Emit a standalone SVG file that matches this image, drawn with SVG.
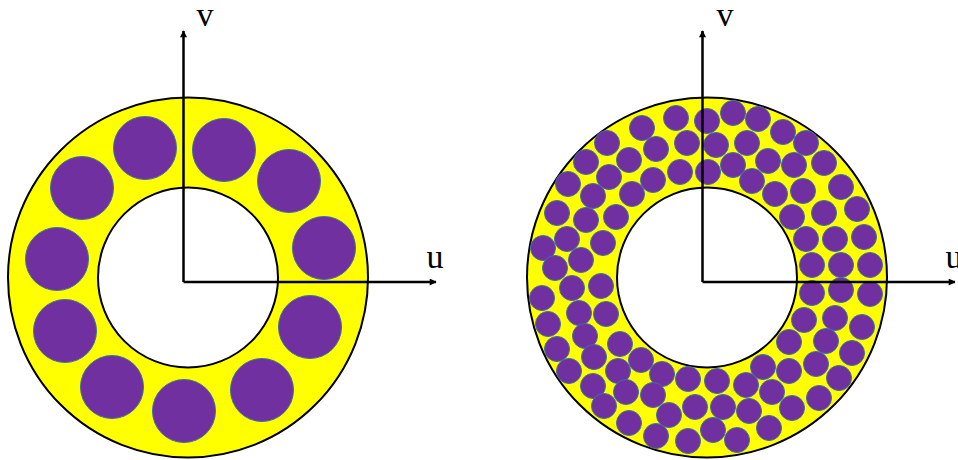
<svg xmlns="http://www.w3.org/2000/svg" width="958" height="460" viewBox="0 0 958 460">
<defs>
<style>
.ring{fill:#FFFF00;stroke:#000;stroke-width:2}
.hole{fill:#fff;stroke:#000;stroke-width:2}
.big{fill:#7030A0;stroke:#41719C;stroke-width:1}
.sm{fill:#7030A0;stroke:#41719C;stroke-width:1}
.axis{stroke:#000;stroke-width:2.5;fill:none}
.lbl{font-family:"Liberation Serif","DejaVu Serif",serif;font-size:34px;fill:#000}
</style>
<marker id="ah" viewBox="0 0 10 10" refX="9" refY="5" markerWidth="3.4" markerHeight="2.8" orient="auto" markerUnits="strokeWidth">
<path d="M0,0 L10,5 L0,10 z" fill="#000"/>
</marker>
</defs>
<rect width="958" height="460" fill="#fff"/>

<g id="left-annulus">
<circle class="ring" cx="188" cy="277.5" r="180"/>
<circle class="hole" cx="188" cy="277.5" r="90"/>
<g id="left-fibres">
<circle class="big" cx="145" cy="148" r="31.5"/>
<circle class="big" cx="224" cy="150" r="31.5"/>
<circle class="big" cx="289" cy="181" r="31.5"/>
<circle class="big" cx="324" cy="248" r="31.5"/>
<circle class="big" cx="310" cy="327" r="31.5"/>
<circle class="big" cx="262" cy="390" r="31.5"/>
<circle class="big" cx="184" cy="411" r="31.5"/>
<circle class="big" cx="112" cy="387" r="31.5"/>
<circle class="big" cx="65" cy="331" r="31.5"/>
<circle class="big" cx="57" cy="259" r="31.5"/>
<circle class="big" cx="82" cy="188" r="31.5"/>
</g>
</g>

<g id="right-annulus">
<circle class="ring" cx="707" cy="277.5" r="180"/>
<circle class="hole" cx="707" cy="277.5" r="90"/>
<g id="right-fibres">
<circle class="sm" cx="676" cy="118" r="12.5"/>
<circle class="sm" cx="642" cy="128" r="12.5"/>
<circle class="sm" cx="607" cy="143" r="12.5"/>
<circle class="sm" cx="586" cy="162" r="12.5"/>
<circle class="sm" cx="568" cy="184" r="12.5"/>
<circle class="sm" cx="557" cy="213" r="12.5"/>
<circle class="sm" cx="543" cy="248" r="12.5"/>
<circle class="sm" cx="555" cy="268" r="12.5"/>
<circle class="sm" cx="687" cy="143" r="12.5"/>
<circle class="sm" cx="656" cy="149" r="12.5"/>
<circle class="sm" cx="629" cy="160" r="12.5"/>
<circle class="sm" cx="609" cy="177" r="12.5"/>
<circle class="sm" cx="593" cy="196" r="12.5"/>
<circle class="sm" cx="586" cy="220" r="12.5"/>
<circle class="sm" cx="567" cy="239" r="12.5"/>
<circle class="sm" cx="581" cy="260" r="12.5"/>
<circle class="sm" cx="680" cy="172" r="12.5"/>
<circle class="sm" cx="653" cy="180" r="12.5"/>
<circle class="sm" cx="632" cy="194" r="12.5"/>
<circle class="sm" cx="616" cy="217" r="12.5"/>
<circle class="sm" cx="603" cy="243" r="12.5"/>

<circle class="sm" cx="707" cy="121" r="12.5"/>
<circle class="sm" cx="733" cy="113" r="12.5"/>
<circle class="sm" cx="758" cy="119" r="12.5"/>
<circle class="sm" cx="783" cy="132" r="12.5"/>
<circle class="sm" cx="806" cy="143" r="12.5"/>
<circle class="sm" cx="824" cy="163" r="12.5"/>
<circle class="sm" cx="841" cy="187" r="12.5"/>
<circle class="sm" cx="857" cy="209" r="12.5"/>
<circle class="sm" cx="864" cy="237" r="12.5"/>
<circle class="sm" cx="870" cy="265" r="12.5"/>
<circle class="sm" cx="716" cy="145" r="12.5"/>
<circle class="sm" cx="747" cy="143" r="12.5"/>
<circle class="sm" cx="768" cy="161" r="12.5"/>
<circle class="sm" cx="794" cy="165" r="12.5"/>
<circle class="sm" cx="803" cy="191" r="12.5"/>
<circle class="sm" cx="824" cy="213" r="12.5"/>
<circle class="sm" cx="835" cy="239" r="12.5"/>
<circle class="sm" cx="841" cy="265" r="12.5"/>
<circle class="sm" cx="708" cy="172" r="12.5"/>
<circle class="sm" cx="733" cy="165" r="12.5"/>
<circle class="sm" cx="752" cy="181" r="12.5"/>
<circle class="sm" cx="775" cy="194" r="12.5"/>
<circle class="sm" cx="792" cy="217" r="12.5"/>
<circle class="sm" cx="806" cy="239" r="12.5"/>
<circle class="sm" cx="812" cy="265" r="12.5"/>

<circle class="sm" cx="812" cy="293" r="12.5"/>
<circle class="sm" cx="841" cy="290" r="12.5"/>
<circle class="sm" cx="870" cy="294" r="12.5"/>
<circle class="sm" cx="804" cy="320" r="12.5"/>
<circle class="sm" cx="835" cy="318" r="12.5"/>
<circle class="sm" cx="862" cy="327" r="12.5"/>
<circle class="sm" cx="789" cy="342" r="12.5"/>
<circle class="sm" cx="826" cy="341" r="12.5"/>
<circle class="sm" cx="852" cy="353" r="12.5"/>
<circle class="sm" cx="763" cy="367" r="12.5"/>
<circle class="sm" cx="789" cy="371" r="12.5"/>
<circle class="sm" cx="816" cy="364" r="12.5"/>
<circle class="sm" cx="839" cy="378" r="12.5"/>
<circle class="sm" cx="746" cy="385" r="12.5"/>
<circle class="sm" cx="772" cy="392" r="12.5"/>
<circle class="sm" cx="819" cy="398" r="12.5"/>
<circle class="sm" cx="717" cy="381" r="12.5"/>
<circle class="sm" cx="723" cy="407" r="12.5"/>
<circle class="sm" cx="749" cy="411" r="12.5"/>
<circle class="sm" cx="792" cy="408" r="12.5"/>
<circle class="sm" cx="713" cy="430" r="12.5"/>
<circle class="sm" cx="737" cy="440" r="12.5"/>
<circle class="sm" cx="769" cy="428" r="12.5"/>

<circle class="sm" cx="572" cy="288" r="12.5"/>
<circle class="sm" cx="601" cy="286" r="12.5"/>
<circle class="sm" cx="542" cy="298" r="12.5"/>
<circle class="sm" cx="579" cy="313" r="12.5"/>
<circle class="sm" cx="606" cy="314" r="12.5"/>
<circle class="sm" cx="548" cy="324" r="12.5"/>
<circle class="sm" cx="585" cy="336" r="12.5"/>
<circle class="sm" cx="620" cy="344" r="12.5"/>
<circle class="sm" cx="557" cy="349" r="12.5"/>
<circle class="sm" cx="594" cy="357" r="12.5"/>
<circle class="sm" cx="641" cy="360" r="12.5"/>
<circle class="sm" cx="569" cy="371" r="12.5"/>
<circle class="sm" cx="618" cy="371" r="12.5"/>
<circle class="sm" cx="662" cy="374" r="12.5"/>
<circle class="sm" cx="688" cy="379" r="12.5"/>
<circle class="sm" cx="593" cy="386" r="12.5"/>
<circle class="sm" cx="626" cy="392" r="12.5"/>
<circle class="sm" cx="653" cy="395" r="12.5"/>
<circle class="sm" cx="695" cy="407" r="12.5"/>
<circle class="sm" cx="604" cy="406" r="12.5"/>
<circle class="sm" cx="669" cy="415" r="12.5"/>
<circle class="sm" cx="629" cy="423" r="12.5"/>
<circle class="sm" cx="656" cy="436" r="12.5"/>
<circle class="sm" cx="688" cy="441" r="12.5"/>
</g>
</g>

<g id="axes">
<line class="axis" x1="183.5" y1="282" x2="183.5" y2="31" marker-end="url(#ah)"/>
<line class="axis" x1="183.5" y1="282" x2="436" y2="282" marker-end="url(#ah)"/>
<line class="axis" x1="702.5" y1="282" x2="702.5" y2="31" marker-end="url(#ah)"/>
<line class="axis" x1="702.5" y1="282" x2="955" y2="282" marker-end="url(#ah)"/>
</g>

<g id="labels">
<text class="lbl" x="205" y="26" text-anchor="middle">v</text>
<text class="lbl" x="435" y="268" text-anchor="middle">u</text>
<text class="lbl" x="725" y="26" text-anchor="middle">v</text>
<text class="lbl" x="954" y="268" text-anchor="middle">u</text>
</g>
</svg>
